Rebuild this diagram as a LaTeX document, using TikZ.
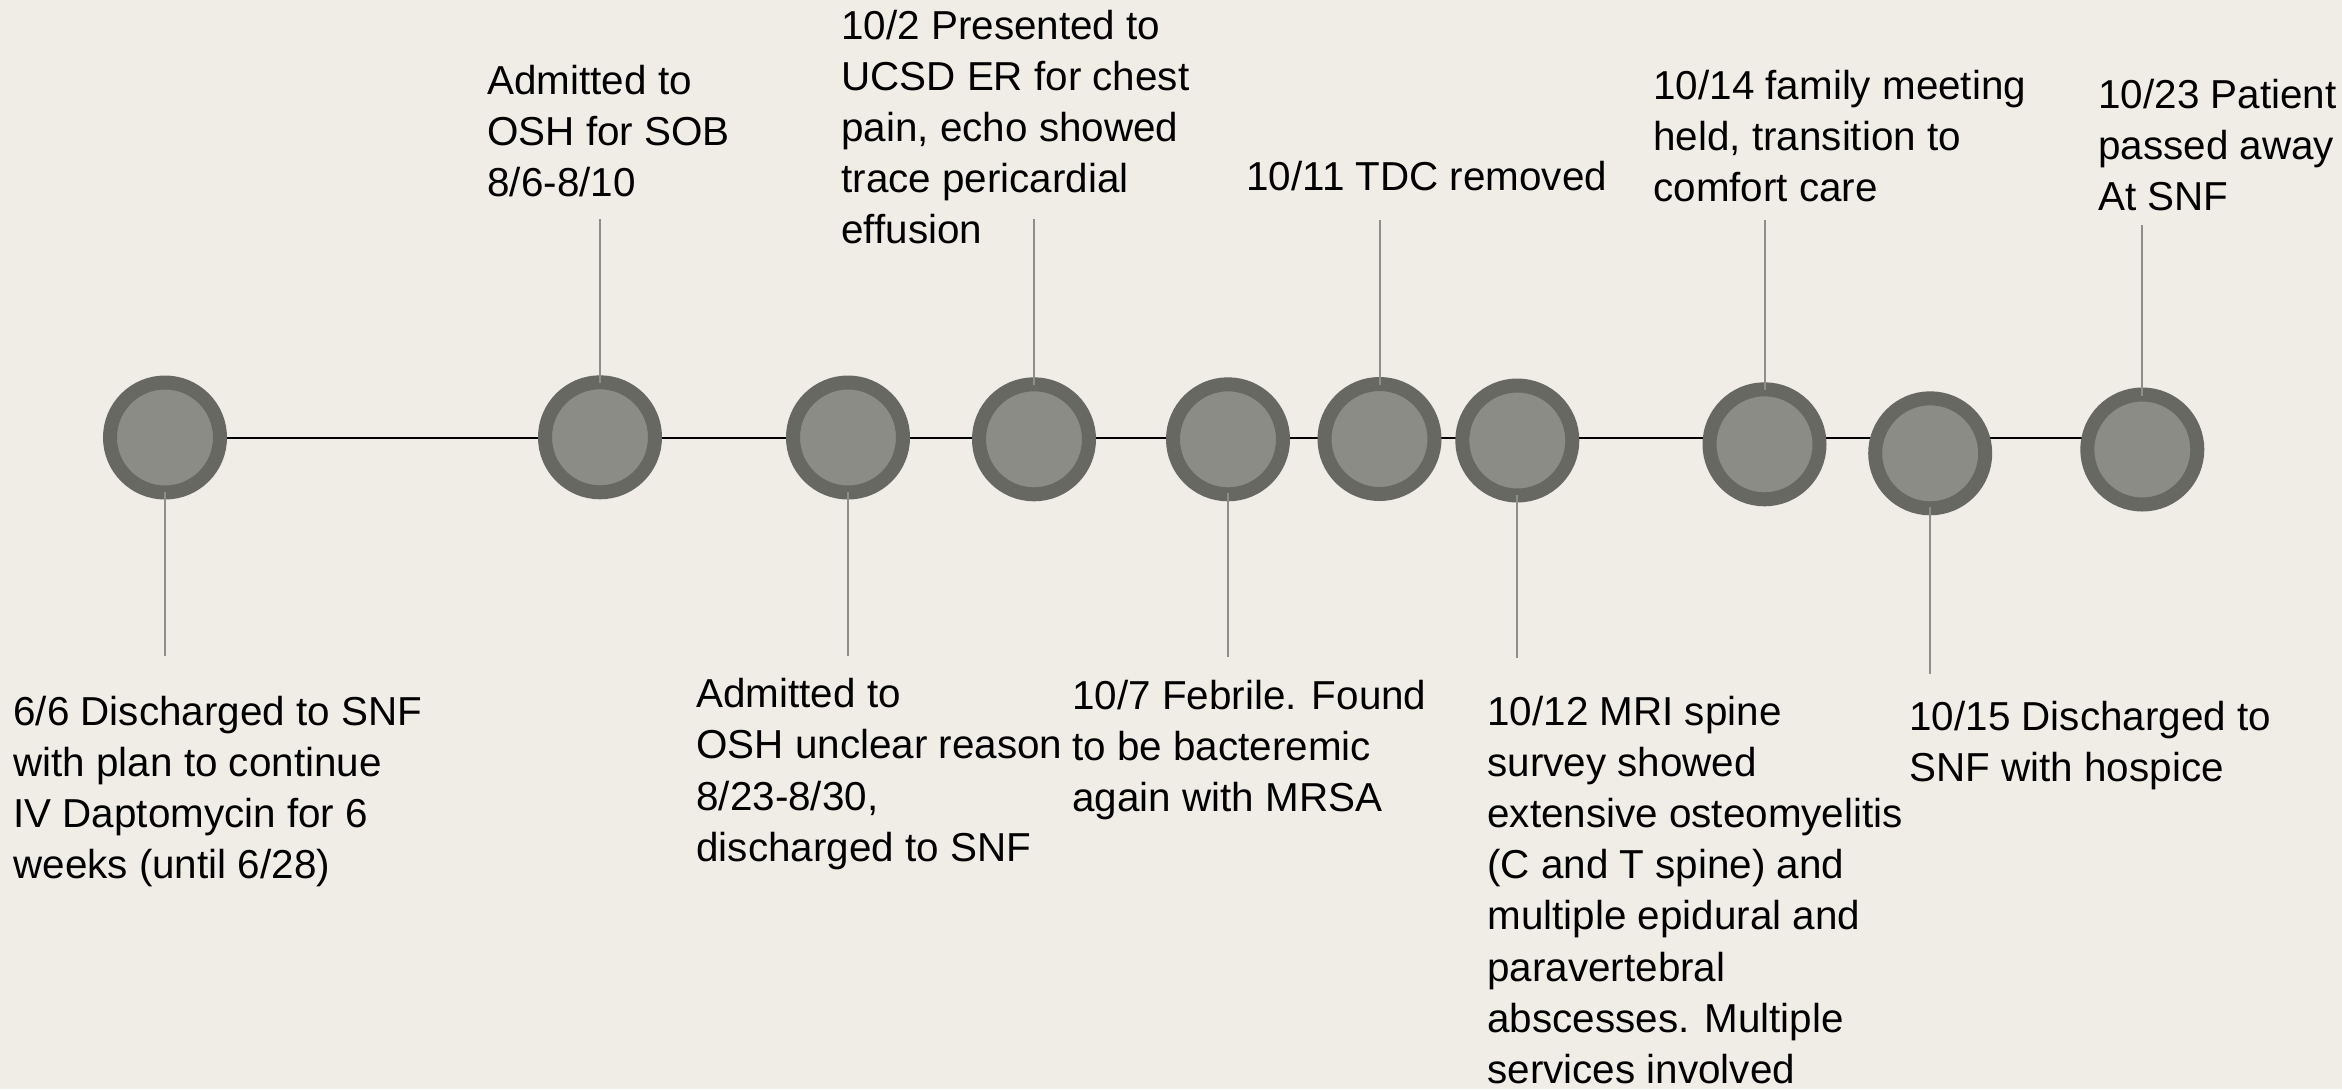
\documentclass[tikz,border=0pt]{standalone}
\usepackage{fontspec}
\setmainfont{Liberation Sans}
\usetikzlibrary{backgrounds}
\definecolor{bgc}{RGB}{239,237,229}
\definecolor{ringc}{RGB}{103,104,98}
\definecolor{innerc}{RGB}{139,140,133}
\definecolor{connc}{RGB}{142,142,136}
\newcommand\tlines[1]{\vtop{\baselineskip=25.6pt\lineskiplimit=-100pt\relax#1}}
\begin{document}
\begin{tikzpicture}[x=0.5pt,y=-0.5pt,
  event/.style={circle, draw=ringc, fill=innerc, line width=7pt, minimum size=55pt, inner sep=0pt},
  conn/.style={draw=connc, line width=1pt},
  axisline/.style={draw=black, line width=1pt},
  txt/.style={anchor=base west, inner sep=0pt, font=\fontsize{20.2}{25.6}\selectfont, text=black}]
\useasboundingbox (0,0) rectangle (2342,1089);
\clip (0,0) rectangle (2342,1089);

% event circles
\node[event] (c1)  at (165,437.5) {};
\node[event] (c2)  at (600,437.3) {};
\node[event] (c3)  at (848,437.5) {};
\node[event] (c4)  at (1034,439.3) {};
\node[event] (c5)  at (1228,439.3) {};
\node[event] (c6)  at (1379.5,439) {};
\node[event] (c7)  at (1517.3,440.5) {};
\node[event] (c8)  at (1764.5,444.3) {};
\node[event] (c9)  at (1930.2,453.3) {};
\node[event] (c10) at (2142.3,449.5) {};

% background and timeline
\begin{pgfonlayer}{background}
\fill[bgc] (0,0) rectangle (2342,1089);
\draw[axisline] (c1.center) -- (c1.center -| c10.center);
\end{pgfonlayer}

% connector ends
\coordinate (e1)  at (165,656);
\coordinate (e2)  at (600,219);
\coordinate (e3)  at (848,656);
\coordinate (e4)  at (1034,219);
\coordinate (e5)  at (1228,657);
\coordinate (e6)  at (1379.5,220);
\coordinate (e7)  at (1517.3,658);
\coordinate (e8)  at (1764.5,220);
\coordinate (e9)  at (1930.2,674);
\coordinate (e10) at (2142.3,225);

\draw[conn] ([yshift=-27pt]c1.center) -- (e1);
\draw[conn] ([yshift=27pt]c2.center) -- (e2);
\draw[conn] ([yshift=-27pt]c3.center) -- (e3);
\draw[conn] ([yshift=27pt]c4.center) -- (e4);
\draw[conn] ([yshift=-27pt]c5.center) -- (e5);
\draw[conn] ([yshift=27pt]c6.center) -- (e6);
\draw[conn] ([yshift=-27pt]c7.center) -- (e7);
\draw[conn] ([yshift=27pt]c8.center) -- (e8);
\draw[conn] ([yshift=-27pt]c9.center) -- (e9);
\draw[conn] ([yshift=27pt]c10.center) -- (e10);

% labels above
\node[txt] (t2) at (487,94.3) {\tlines{\hbox{Admitted to}\hbox{OSH for SOB}\hbox{8/6-8/10}}};
\node[txt] (t4) at (841,39) {\tlines{\hbox{10/2 Presented to}\hbox{UCSD ER for chest}\hbox{pain, echo showed}\hbox{trace pericardial}\hbox{effusion}}};
\node[txt] (t6) at (1246,190.7) {\tlines{\hbox{10/11 TDC removed}}};
\node[txt] (t8) at (1653,99.3) {\tlines{\hbox{10/14 family meeting}\hbox{held, transition to}\hbox{comfort care}}};
\node[txt] (t10) at (2098,108.3) {\tlines{\hbox{10/23 Patient}\hbox{passed away}\hbox{At SNF}}};

% labels below
\node[txt] (t1) at (13,725) {\tlines{\hbox{6/6 Discharged to SNF}\hbox{with plan to continue}\hbox{IV Daptomycin for 6}\hbox{weeks (until 6/28)}}};
\node[txt] (t3) at (696,707.7) {\tlines{\hbox{Admitted to}\hbox{OSH unclear reason}\hbox{8/23-8/30,}\hbox{discharged to SNF}}};
\node[txt] (t5) at (1072,709.5) {\tlines{\hbox{10/7 Febrile. Found}\hbox{to be bacteremic}\hbox{again with MRSA}}};
\node[txt] (t7) at (1487,725) {\tlines{\hbox{10/12 MRI spine}\hbox{survey showed}\hbox{extensive osteomyelitis}\hbox{(C and T spine) and}\hbox{multiple epidural and}\hbox{paravertebral}\hbox{abscesses. Multiple}\hbox{services involved}}};
\node[txt] (t9) at (1909,730) {\tlines{\hbox{10/15 Discharged to}\hbox{SNF with hospice}}};
\end{tikzpicture}
\end{document}
